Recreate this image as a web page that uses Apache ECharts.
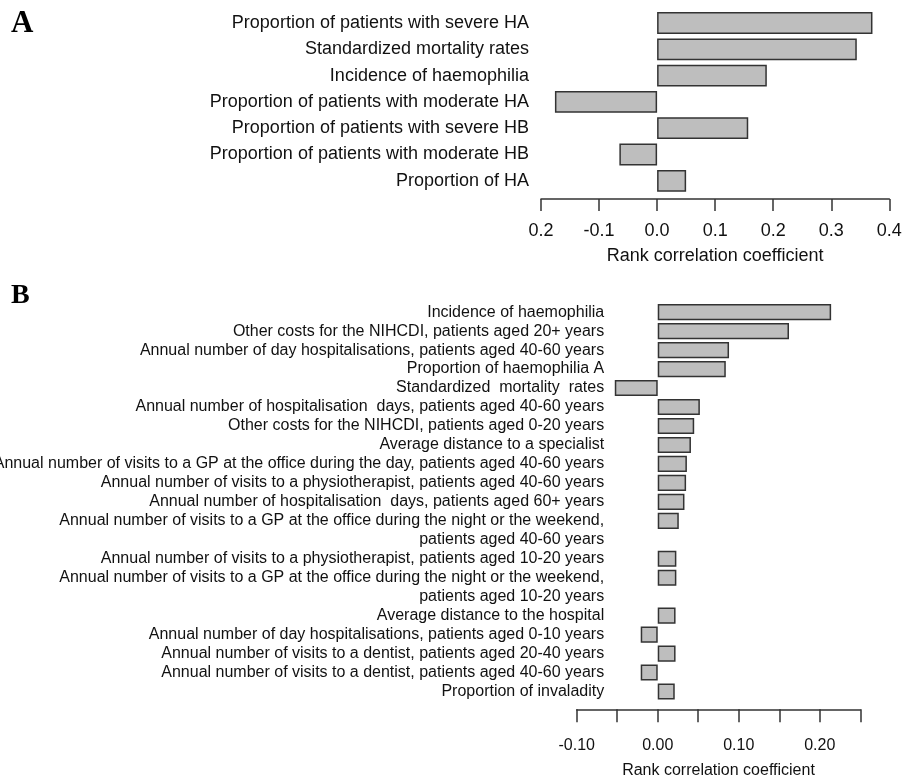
<!DOCTYPE html>
<html>
<head>
<meta charset="utf-8">
<script src="https://cdn.jsdelivr.net/npm/echarts@6/dist/echarts.min.js"></script>
<style>
html,body{margin:0;padding:0;background:#fff;}
#c{width:903px;height:778px;}
</style>
</head>
<body>
<div id="c"></div>
<script>
// Panel A
const catsA = [
  "Proportion of patients with severe HA",
  "Standardized mortality rates",
  "Incidence of haemophilia",
  "Proportion of patients with moderate HA",
  "Proportion of patients with severe HB",
  "Proportion of patients with moderate HB",
  "Proportion of HA"
];
const valsA = [0.371, 0.344, 0.189, -0.176, 0.157, -0.065, 0.050];
const ticksA = ["0.2", "-0.1", "0.0", "0.1", "0.2", "0.3", "0.4"];

// Panel B
const catsB = [
  "Incidence of haemophilia",
  "Other costs for the NIHCDI, patients aged 20+ years",
  "Annual number of day hospitalisations, patients aged 40-60 years",
  "Proportion of haemophilia A",
  "Standardized  mortality  rates",
  "Annual number of hospitalisation  days, patients aged 40-60 years",
  "Other costs for the NIHCDI, patients aged 0-20 years",
  "Average distance to a specialist",
  "Annual number of visits to a GP at the office during the day, patients aged 40-60 years",
  "Annual number of visits to a physiotherapist, patients aged 40-60 years",
  "Annual number of hospitalisation  days, patients aged 60+ years",
  "Annual number of visits to a GP at the office during the night or the weekend,",
  "patients aged 40-60 years",
  "Annual number of visits to a physiotherapist, patients aged 10-20 years",
  "Annual number of visits to a GP at the office during the night or the weekend,",
  "patients aged 10-20 years",
  "Average distance to the hospital",
  "Annual number of day hospitalisations, patients aged 0-10 years",
  "Annual number of visits to a dentist, patients aged 20-40 years",
  "Annual number of visits to a dentist, patients aged 40-60 years",
  "Proportion of invaladity"
];
const valsB = [0.214, 0.162, 0.088, 0.084, -0.053, 0.052, 0.045, 0.041, 0.036, 0.035, 0.033, 0.026, null,
               0.023, 0.023, null, 0.022, -0.021, 0.022, -0.021, 0.021];
const ticksB = ["-0.10", "", "0.00", "", "0.10", "", "0.20", ""];

const FONT = "Liberation Sans, Arial, sans-serif";
const barStyle = {color: '#bebebe', borderColor: '#333333', borderWidth: 1.5};

const chart = echarts.init(document.getElementById('c'), null, {renderer: 'canvas'});
chart.setOption({
  animation: false,
  backgroundColor: '#ffffff',
  graphic: [
    {type: 'text', left: 11, top: 8, style: {text: 'A', font: 'bold 31px "Liberation Serif", "Times New Roman", serif', fill: '#000'}},
    {type: 'text', left: 11, top: 282, style: {text: 'B', font: 'bold 28px "Liberation Serif", "Times New Roman", serif', fill: '#000'}}
  ],
  grid: [
    {left: 541, width: 348.3, top: 9.85, height: 184.1, outerBoundsMode: 'none', containLabel: false},
    {left: 576.7, width: 283.6, top: 302.7, height: 398.3, outerBoundsMode: 'none', containLabel: false}
  ],
  xAxis: [
    {
      gridIndex: 0, type: 'value', min: -0.2, max: 0.4, interval: 0.1, offset: 5,
      axisLine: {show: true, lineStyle: {color: '#333', width: 1.5}},
      axisTick: {show: true, length: 12, lineStyle: {color: '#333', width: 1.5}},
      splitLine: {show: false},
      axisLabel: {
        margin: 23, fontSize: 18, fontFamily: FONT, color: '#111',
        formatter: v => ticksA[Math.round((v + 0.2) / 0.1)]
      },
      name: 'Rank correlation coefficient', nameLocation: 'middle', nameGap: 48,
      nameTextStyle: {fontSize: 18, fontFamily: FONT, color: '#111'}
    },
    {
      gridIndex: 1, type: 'value', min: -0.1, max: 0.25, interval: 0.05, offset: 8.3,
      axisLine: {show: true, lineStyle: {color: '#333', width: 1.5}},
      axisTick: {show: true, length: 13, lineStyle: {color: '#333', width: 1.5}},
      splitLine: {show: false},
      axisLabel: {
        margin: 28, fontSize: 16, fontFamily: FONT, color: '#111', showMaxLabel: true,
        formatter: v => ticksB[Math.round((v + 0.1) / 0.05)]
      },
      name: 'Rank correlation coefficient', nameLocation: 'middle', nameGap: 53,
      nameTextStyle: {fontSize: 16, fontFamily: FONT, color: '#111'}
    }
  ],
  yAxis: [
    {
      gridIndex: 0, type: 'category', data: catsA, inverse: true,
      axisLine: {show: false}, axisTick: {show: false},
      axisLabel: {margin: 12, fontSize: 18, fontFamily: FONT, color: '#111', interval: 0}
    },
    {
      gridIndex: 1, type: 'category', data: catsB, inverse: true,
      axisLine: {show: false}, axisTick: {show: false},
      axisLabel: {margin: -27.5, fontSize: 16, fontFamily: FONT, color: '#111', interval: 0}
    }
  ],
  series: [
    {type: 'bar', xAxisIndex: 0, yAxisIndex: 0, data: valsA, barWidth: '83%', itemStyle: barStyle},
    {type: 'bar', xAxisIndex: 1, yAxisIndex: 1, data: valsB, barWidth: '85%', itemStyle: barStyle}
  ]
});
</script>
</body>
</html>
